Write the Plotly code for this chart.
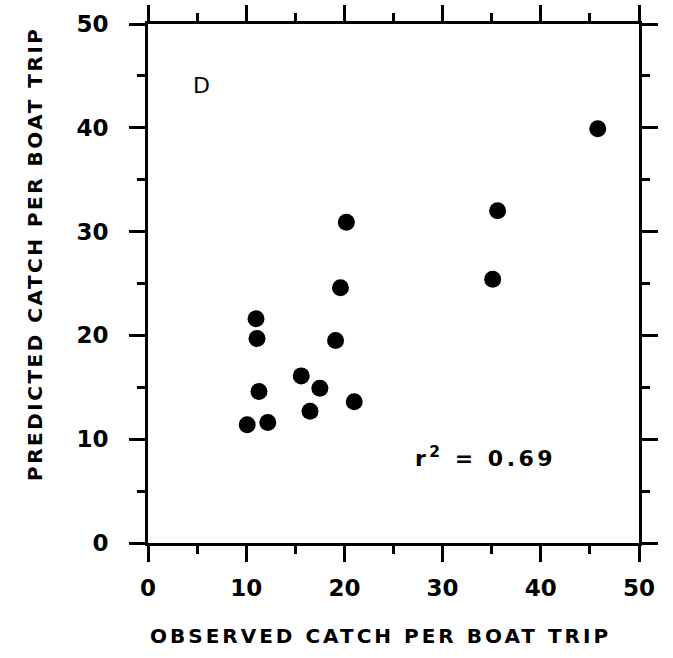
import plotly.graph_objects as go

# Observed vs predicted catch per boat trip (panel D)
observed = [45.8, 35.6, 35.1, 20.2, 19.6, 11.0, 11.1, 19.1, 15.6, 17.5, 11.3, 21.0, 16.5, 10.1, 12.2]
predicted = [39.9, 32.0, 25.4, 30.9, 24.6, 21.6, 19.7, 19.5, 16.1, 14.9, 14.6, 13.6, 12.7, 11.4, 11.6]

axis_ticks = [0, 10, 20, 30, 40, 50]
axis_ticktext = ["0", "10", "20", "30", "40", "50"]

panel_label = "D"
r2_text = "r<sup>2</sup> = 0.69"
x_title = "OBSERVED CATCH PER BOAT TRIP"
y_title = "PREDICTED CATCH PER BOAT TRIP"

tick_font = dict(family="DejaVu Sans", size=23, color="black", weight="bold")
title_font = dict(family="DejaVu Sans", size=20, color="black", weight="bold")

# plot-area edges in pixels
L, R, T, B = 148, 639, 24, 543


def spaced(text, px):
    return f'<span style="letter-spacing:{px}px">{text}</span>'


fig = go.Figure(
    go.Scatter(
        x=observed,
        y=predicted,
        mode="markers",
        marker=dict(size=17, color="black", line=dict(width=0)),
        hoverinfo="x+y",
    )
)

axis_common = dict(
    range=[0, 50],
    tickmode="array",
    tickvals=axis_ticks,
    ticktext=axis_ticktext,
    showgrid=False,
    zeroline=False,
    showline=True,
    linewidth=3,
    linecolor="black",
    mirror="ticks",
    ticks="outside",
    ticklen=16,
    tickwidth=3,
    tickcolor="black",
    tickfont=tick_font,
    automargin=False,
    minor=dict(dtick=5, tick0=0, ticks="outside", ticklen=8, tickwidth=3, tickcolor="black", showgrid=False),
)

fig.update_xaxes(**axis_common, ticklabelstandoff=6)
fig.update_yaxes(**axis_common, ticklabelstandoff=16)

fig.update_layout(
    width=673,
    height=658,
    margin=dict(l=L, r=673 - R, t=T, b=658 - B, autoexpand=False),
    paper_bgcolor="white",
    plot_bgcolor="white",
    showlegend=False,
    annotations=[
        dict(
            x=5.4, y=44.1, xref="x", yref="y", text=panel_label, showarrow=False,
            font=dict(family="DejaVu Sans", size=22, color="black"),
        ),
        dict(
            x=34.4, y=8.3, xref="x", yref="y", text=spaced(r2_text, 3.5), showarrow=False,
            font=dict(family="DejaVu Sans", size=22, color="black", weight="bold"),
        ),
        dict(
            x=(380 - L) / (R - L), y=-(636 - B) / (B - T), xref="paper", yref="paper",
            text=spaced(x_title, 3), showarrow=False, font=title_font,
            xanchor="center", yanchor="middle",
        ),
        dict(
            x=-(L - 35) / (R - L), y=(B - 254) / (B - T), xref="paper", yref="paper",
            text=spaced(y_title, 2.5), showarrow=False, font=title_font, textangle=-90,
            xanchor="center", yanchor="middle",
        ),
    ],
)

fig.write_html("out.html")
